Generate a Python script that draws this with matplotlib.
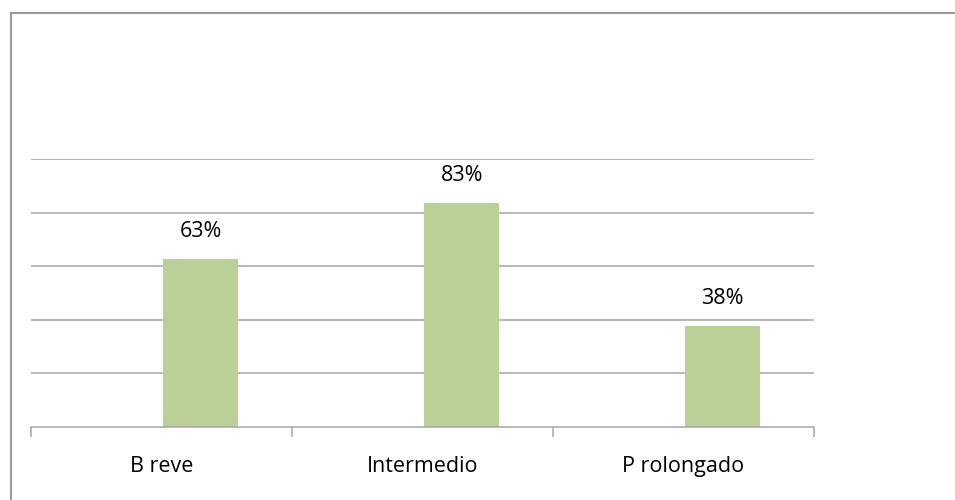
import matplotlib
matplotlib.use("Agg")
import matplotlib.pyplot as plt
from matplotlib.patches import Rectangle

categories = ["B reve", "Intermedio", "P rolongado"]
values = [0.625, 0.835, 0.375]
labels = ["63%", "83%", "38%"]

W, H = 955, 500
fig = plt.figure(figsize=(W / 100, H / 100), dpi=100)
fig.patch.set_facecolor("white")

# outer frame
fig.patches.append(Rectangle((11 / W, -0.1), 1.2, 1 - 13 / H + 0.1, transform=fig.transFigure,
                             fill=False, edgecolor="#9a9a9a", linewidth=1.5))

ax = fig.add_axes([31 / W, 1 - 426.5 / H, (814 - 31) / W, (426.5 - 159) / H])
x = list(range(len(categories)))
offset = 0.15
bx = [xi + offset for xi in x]
ax.bar(bx, values, width=0.29, color="#bbd096", zorder=2)
ax.set_xlim(-0.5, 2.5)
ax.set_ylim(0, 1.0)
ax.set_yticks([0.2, 0.4, 0.6, 0.8, 1.0])
ax.yaxis.grid(True, color="#a6a6a6", linewidth=1.1)
ax.tick_params(axis="y", length=0, labelleft=False)
for s in ["top", "right", "left"]:
    ax.spines[s].set_visible(False)
ax.spines["bottom"].set_color("#a6a6a6")
ax.spines["bottom"].set_linewidth(1.1)
ax.set_xticks([-0.5, 0.5, 1.5, 2.5])
ax.set_xticklabels([])
ax.tick_params(axis="x", length=7, color="#a6a6a6", width=1.1, direction="out")
for xi, c in zip(x, categories):
    ax.annotate(c, (xi, 0), xytext=(0, -40), textcoords="offset pixels",
                ha="center", va="center", fontsize=15.5, family="Open Sans", color="#000000")
for xi, v, l in zip(bx, values, labels):
    ax.annotate(l, (xi, v), xytext=(0, 28), textcoords="offset pixels",
                ha="center", va="center", fontsize=15.5, family="Open Sans", color="#000000")

fig.savefig("out.png", dpi=100)
